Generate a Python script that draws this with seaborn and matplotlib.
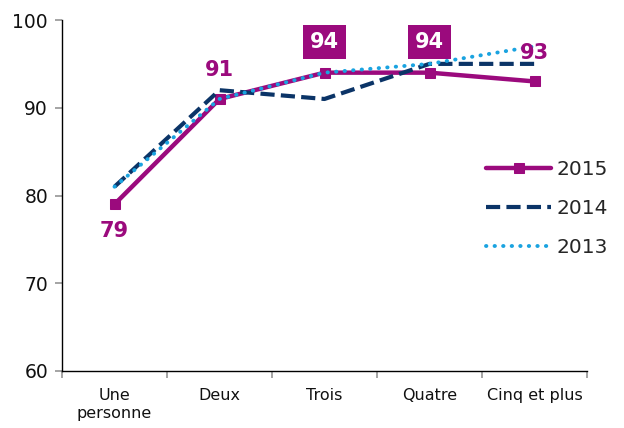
import matplotlib
matplotlib.use("Agg")
import matplotlib.pyplot as plt
import seaborn as sns
import pandas as pd
import numpy as np

categories = ["Une\npersonne", "Deux", "Trois", "Quatre", "Cinq et plus"]
v2015 = [79, 91, 94, 94, 93]
v2014 = [81, 92, 91, 95, 95]
v2013 = [81, 91, 94, 95, 97]
yticks = [60, 70, 80, 90, 100]

sns.set_theme(style="white")
plt.rcParams['font.family'] = ['DejaVu Sans']

c15 = "#9B0A7D"
c14 = "#0B3467"
c13 = "#1AA3E0"

df = pd.DataFrame({
    "x": list(range(len(categories))) * 3,
    "v": v2015 + v2014 + v2013,
    "s": ["2015"] * 5 + ["2014"] * 5 + ["2013"] * 5,
})

fig = plt.figure(figsize=(6.24, 4.28), dpi=100)
ax = fig.add_axes([62/624, 1-371/428, (587-62)/624, (371-20)/428])

sns.lineplot(data=df[df.s == "2013"], x="x", y="v", ax=ax, color=c13, lw=2.8,
             linestyle=(0, (0.1, 2.1)), label="2013", zorder=3)
sns.lineplot(data=df[df.s == "2014"], x="x", y="v", ax=ax, color=c14, lw=3,
             linestyle=(0, (3.4, 1.5)), label="2014", zorder=2)
sns.lineplot(data=df[df.s == "2015"], x="x", y="v", ax=ax, color=c15, lw=3.2,
             marker="s", markersize=6.5, markeredgecolor=c15, label="2015", zorder=1)

for ln in ax.get_lines():
    if ln.get_label() == "2013":
        ln.set_dash_capstyle("round")

ax.set_xlim(-0.5, 4.5)
ax.set_ylim(60, 100)
ax.set_yticks(yticks)
ax.set_yticklabels([str(t) for t in yticks], fontsize=13.5, color="#111111")
ax.set_xticks(np.arange(-0.5, 5, 1.0))
ax.set_xticklabels([])
ax.set_xticks(range(len(categories)), minor=True)
ax.set_xticklabels(categories, minor=True, fontsize=11.5, color="#111111", linespacing=1.3)
ax.tick_params(axis="x", which="minor", length=0, pad=12)
ax.tick_params(axis="x", which="major", length=5, color="#999999", direction="out", bottom=True)
ax.tick_params(axis="y", length=5, color="#999999", direction="out", left=True, pad=5)
ax.set_xlabel("")
ax.set_ylabel("")
for s in ["top", "right"]:
    ax.spines[s].set_visible(False)
for s in ["left", "bottom"]:
    ax.spines[s].set_color("#000000")
    ax.spines[s].set_linewidth(1.0)

lab_kw = dict(fontsize=15, fontweight="bold", ha="center", va="center")
ax.annotate(str(v2015[0]), (0, v2015[0]), xytext=(0, -19), textcoords="offset points", color=c15, **lab_kw)
ax.annotate(str(v2015[1]), (1, v2015[1]), xytext=(0, 21), textcoords="offset points", color=c15, **lab_kw)
for i in (2, 3):
    ax.annotate(str(v2015[i]), (i, v2015[i]), xytext=(0, 22), textcoords="offset points", color="white",
                bbox=dict(boxstyle="square,pad=0.35", fc=c15, ec="none"), **lab_kw)
ax.annotate(str(v2015[4]), (4, v2015[4]), xytext=(0, 20.5), textcoords="offset points", color=c15, **lab_kw)

h, l = ax.get_legend_handles_labels()
order = [l.index("2015"), l.index("2014"), l.index("2013")]
ax.legend([h[i] for i in order], [l[i] for i in order], loc="upper left",
          bbox_to_anchor=(0.789, 0.63), frameon=False, fontsize=14.5,
          handlelength=3.2, labelspacing=1.0, handletextpad=0.3, borderpad=0)

fig.savefig("out.png", dpi=100)
